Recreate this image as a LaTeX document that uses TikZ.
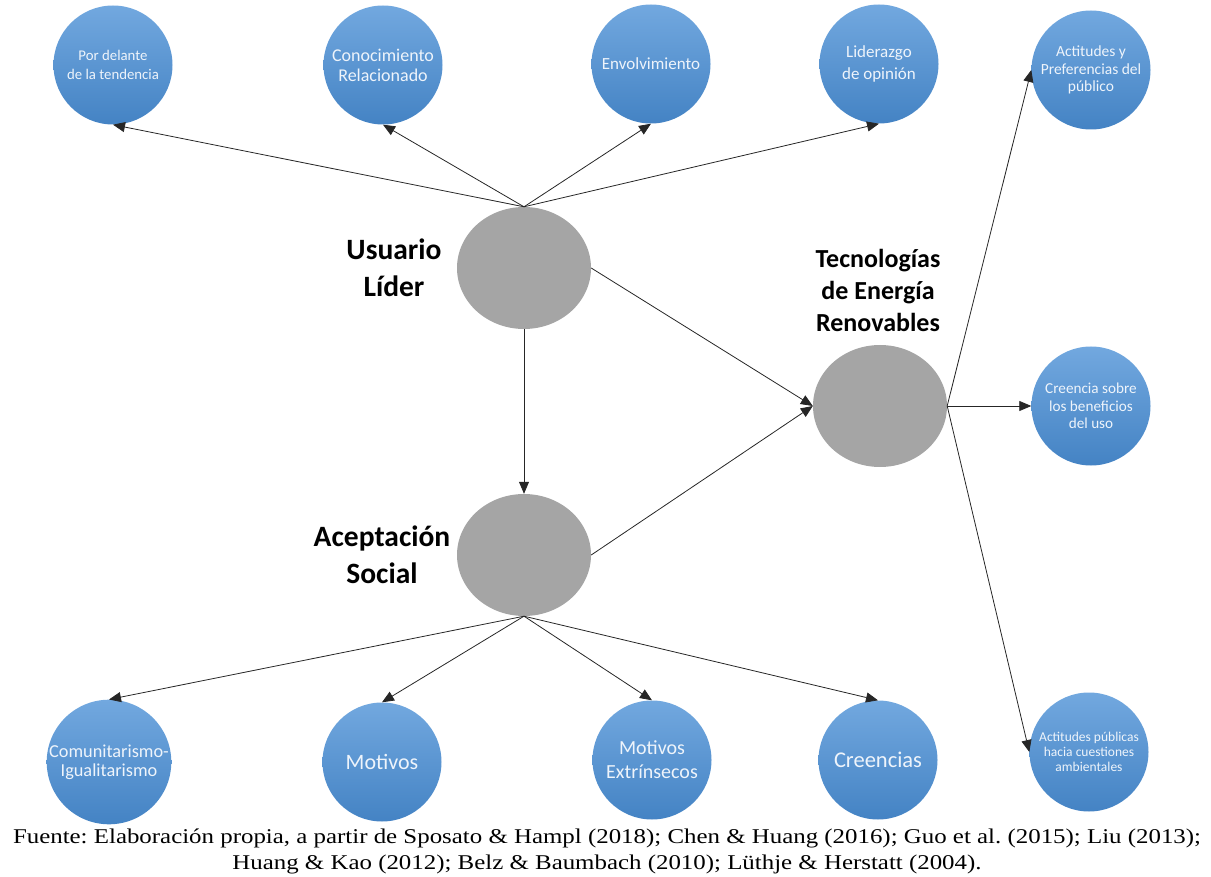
\documentclass[tikz,border=0pt]{standalone}
\usepackage{fontspec}
\setmainfont{Carlito}
\newfontfamily\captionserif{Liberation Serif}
\usetikzlibrary{shapes.geometric,arrows.meta}
\definecolor{bluetop}{HTML}{72A8DF}
\definecolor{bluebot}{HTML}{4483C4}
\definecolor{hubgray}{HTML}{A5A5A5}
\definecolor{softwhite}{HTML}{EEF4FB}
\tikzset{
  factor/.style={circle, minimum size=119pt, inner sep=0pt,
    top color=bluetop, bottom color=bluebot, text=softwhite, align=center},
  hub/.style={ellipse, minimum width=134pt, minimum height=122pt,
    inner sep=0pt, fill=hubgray},
  hublabel/.style={font=\fontsize{29.5}{37}\selectfont\bfseries, align=center},
  link/.style={draw=black!85, line width=0.8pt,
    -{Triangle[length=12pt,width=10pt]}},
}
\begin{document}
\begin{tikzpicture}[x=1pt,y=-1pt]
\useasboundingbox (0,0) rectangle (1211,877);

% central constructs
\node[hub] (ul)  at (524,268) {};
\node[hub] (as)  at (524,555) {};
\node[hub] (tec) at (880,406) {};

\node[hublabel] (ullab)  at (394,268) {Usuario\\Líder};
\node[hublabel] (aslab)  at (382,555) {Aceptación\\Social};
\node[hublabel, font=\fontsize{26}{32}\selectfont\bfseries] (teclab) at (878,290) {Tecnologías\\de Energía\\Renovables};

% dimensions of the lead user
\node[factor, font=\fontsize{14.8}{19.5}\selectfont] (c1) at (113,65) {Por delante\\de la tendencia};
\node[factor, font=\fontsize{18}{20}\selectfont] (c2) at (383,65) {Conocimiento\\Relacionado};
\node[factor, font=\fontsize{17}{20}\selectfont] (c3) at (651,64) {Envolvimiento};
\node[factor, font=\fontsize{17}{22}\selectfont] (c4) at (879,64) {Liderazgo\\de opinión};

% outcomes of the technologies
\node[factor, font=\fontsize{15.5}{17.5}\selectfont] (r1) at (1091,70) {Actitudes y\\Preferencias del\\público};
\node[factor, font=\fontsize{15.2}{17.5}\selectfont] (r2) at (1091,406) {Creencia sobre\\los beneficios\\del uso};
\node[factor, font=\fontsize{13.5}{15}\selectfont] (r3) at (1089,752) {Actitudes públicas\\hacia cuestiones\\ambientales};

% dimensions of social acceptance
\node[factor, font=\fontsize{18.3}{19}\selectfont] (b1) at (109,762) {Comunitarismo-\\Igualitarismo};
\node[factor, font=\fontsize{22}{24}\selectfont] (b2) at (382,762) {Motivos};
\node[factor, font=\fontsize{20}{24}\selectfont] (b3) at (652,760) {Motivos\\Extrínsecos};
\node[factor, font=\fontsize{22.5}{24}\selectfont] (b4) at (878,760) {Creencias};

% connectors
\foreach \t in {c1,c2,c3,c4} \draw[link] (ul.north) -- (\t.south);
\foreach \t in {b1,b2,b3,b4} \draw[link] (as.south) -- (\t.north);
\foreach \t in {r1,r2,r3} \draw[link] (tec.east) -- (\t.west);
\draw[link] (ul.south) -- (as.north);
\draw[link] (ul.east) -- (tec.west);
\draw[link] (as.east) -- (tec.west);

% source note
\node[inner sep=0pt] (src) at (607,851)
  {\captionserif\frenchspacing\fontsize{21}{26}\selectfont
   \scalebox{1.185}[1]{\begin{tabular}{@{}c@{}}
   Fuente: Elaboración propia, a partir de Sposato \& Hampl (2018); Chen \& Huang (2016); Guo et al. (2015); Liu (2013);\\
   Huang \& Kao (2012); Belz \& Baumbach (2010); Lüthje \& Herstatt (2004).
   \end{tabular}}};
\end{tikzpicture}
\end{document}
